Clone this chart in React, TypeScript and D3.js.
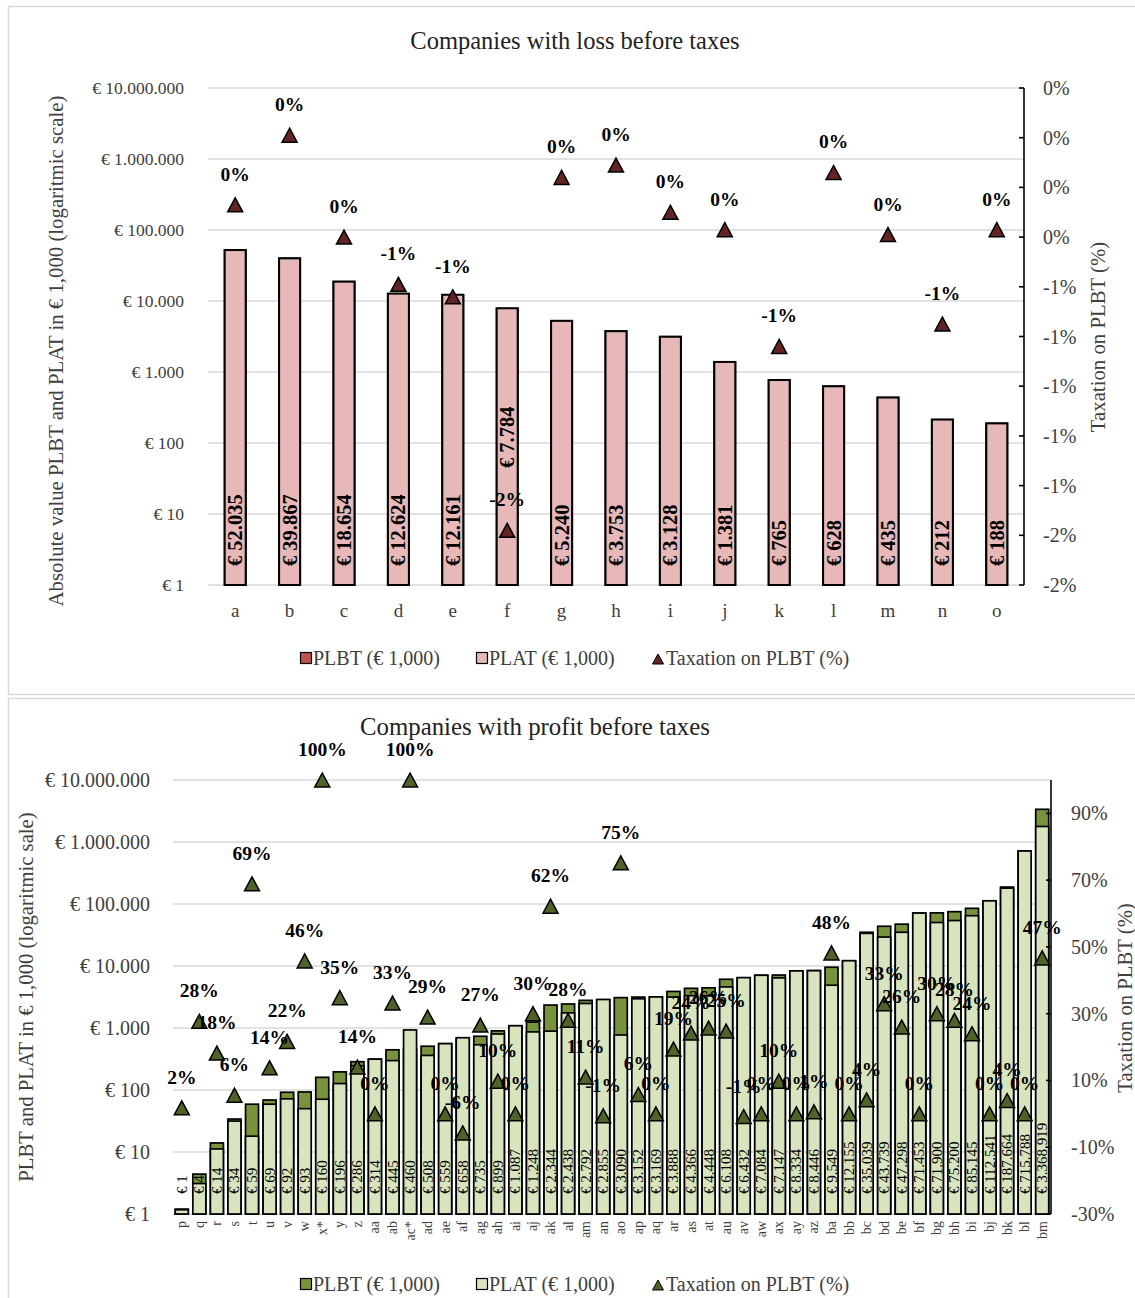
import React from 'react';
import * as d3 from 'd3';

// ---------- DATA ----------
const lossCategories = ['a', 'b', 'c', 'd', 'e', 'f', 'g', 'h', 'i', 'j', 'k', 'l', 'm', 'n', 'o'];
const lossPLBT = [52035, 39867, 18654, 12624, 12161, 7784, 5240, 3753, 3128, 1381, 765, 628, 435, 212, 188];
const lossPLAT = [52170, 39870, 18730, 12700, 12240, 7900, 5250, 3757, 3137, 1386, 771, 629, 437, 214, 189];
const lossTax = [-0.0027, 0.0001, -0.004, -0.0059, -0.0064, -0.0158, -0.0016, -0.0011, -0.003, -0.0037, -0.0084, -0.0014, -0.0039, -0.0075, -0.0037];

const profitCategories = ['p', 'q', 'r', 's', 't', 'u', 'v', 'w', 'x*', 'y', 'z', 'aa', 'ab', 'ac*', 'ad', 'ae', 'af', 'ag', 'ah', 'ai', 'aj', 'ak', 'al', 'am', 'an', 'ao', 'ap', 'aq', 'ar', 'as', 'at', 'au', 'av', 'aw', 'ax', 'ay', 'az', 'ba', 'bb', 'bc', 'bd', 'be', 'bf', 'bg', 'bh', 'bi', 'bj', 'bk', 'bl', 'bm'];
const profitPLBT = [1.2, 4.4, 14, 34, 59, 69, 92, 93, 160, 196, 286, 314, 445, 460, 508, 559, 658, 735, 899, 1087, 1248, 2344, 2438, 2792, 2855, 3090, 3152, 3169, 3888, 4366, 4448, 6108, 6432, 7084, 7147, 8334, 8446, 9549, 12155, 35039, 43739, 47298, 71453, 71900, 75200, 85145, 112541, 187664, 715788, 3368919];
const profitPLAT = [1.17, 3.1, 11.2, 31.5, 18, 59, 72, 50, 71, 127, 246, 314, 298, 930, 361, 559, 697, 537, 800, 1087, 865, 890, 1755, 2485, 2884, 772, 2960, 3169, 3150, 3320, 3310, 4600, 6500, 7084, 6430, 8334, 8400, 4900, 12155, 33600, 29300, 35000, 71453, 50300, 54100, 64700, 112541, 180000, 715788, 1780000];
const profitTax = [0.018, 0.277, 0.182, 0.056, 0.689, 0.138, 0.217, 0.458, 1.0, 0.348, 0.14, 0.0, 0.332, 1.0, 0.29, 0.0, -0.057, 0.266, 0.098, 0.0, 0.3, 0.622, 0.28, 0.11, -0.006, 0.752, 0.058, 0.0, 0.194, 0.242, 0.257, 0.248, -0.008, 0.0, 0.098, 0.0, 0.006, 0.482, 0.0, 0.042, 0.33, 0.26, 0.0, 0.3, 0.28, 0.24, 0.0, 0.04, 0.0, 0.467];

const logTicks = [1, 10, 100, 1000, 10000, 100000, 1000000, 10000000];
const lossTaxTicks = [0.002, 0, -0.002, -0.004, -0.006, -0.008, -0.01, -0.012, -0.014, -0.016, -0.018];
const profitTaxTicks = [-0.3, -0.1, 0.1, 0.3, 0.5, 0.7, 0.9];
const legendLabels = ['PLBT (€ 1,000)', 'PLAT (€ 1,000)', 'Taxation on PLBT (%)'];

// ---------- HELPERS ----------
const FONT = '"Liberation Serif", "Times New Roman", serif';
const euro = d3.formatLocale({ decimal: ',', thousands: '.', grouping: [3], currency: ['€ ', ''] }).format('$,.0f');
const pct = (v: number) => {
  const n = Math.round(v * 100);
  return `${n === 0 ? 0 : n}%`;
};
const TRI = 'M0,-7L7.5,7L-7.5,7Z';
const AXIS_GREY = '#404040';
const GRID = '#d9d9d9';

type Cfg = {
  title: string;
  titleY: number;
  titleX: number;
  titleSize: number;
  cats: string[];
  plbt: number[];
  plat: number[];
  tax: number[];
  x0: number;
  x1: number;
  yTop: number;
  yBot: number;
  taxDomain: [number, number];
  taxTicks: number[];
  cPLBT: string;
  cPLAT: string;
  cTri: string;
  barW: number;
  barStroke: number;
  leftTitle: string;
  leftTitleX: number;
  leftTitleY: number;
  rightTitleX: number;
  rightTitleY: number;
  axisTitleSize: number;
  leftTickX: number;
  rightTickX: number;
  tickSize: number;
  rightTickSize: number;
  small: boolean;
  legendY: number;
  labelLift: Record<string, number>;
};

function Chart({ c }: { c: Cfg }) {
  const x = d3.scaleBand().domain(c.cats).range([c.x0, c.x1]);
  const bw = x.bandwidth();
  const y = d3.scaleLog().domain([1, 1e7]).range([c.yBot, c.yTop]);
  const r = d3.scaleLinear().domain(c.taxDomain).range([c.yBot, c.yTop]);

  const barLabelSize = c.small ? 15 : 20.5;
  const triLabelSize = 19.5;

  return (
    <g>
      <text x={c.titleX} y={c.titleY} textAnchor="middle" fontSize={c.titleSize} fill="#222" fontFamily={FONT}>
        {c.title}
      </text>
      {/* gridlines + left ticks */}
      {logTicks.map((t) => (
        <g key={'g' + t}>
          <line x1={c.x0} x2={c.x1} y1={y(t)} y2={y(t)} stroke={GRID} strokeWidth={1.6} />
          <text x={c.leftTickX} y={y(t)} textAnchor="end" dominantBaseline="central" fontSize={c.tickSize} fill={AXIS_GREY} fontFamily={FONT}>
            {euro(t)}
          </text>
        </g>
      ))}
      {/* bars */}
      {c.cats.map((cat, i) => {
        const cx = (x(cat) as number) + bw / 2;
        const yb = y(c.plbt[i]);
        const ya = y(c.plat[i]);
        return (
          <g key={'b' + cat}>
            <rect x={cx - c.barW / 2} y={yb} width={c.barW} height={c.yBot - yb} fill={c.cPLBT} stroke="#000" strokeWidth={c.barStroke} />
            <rect x={cx - c.barW / 2} y={ya} width={c.barW} height={c.yBot - ya} fill={c.cPLAT} stroke="#000" strokeWidth={c.barStroke} />
          </g>
        );
      })}
      {/* bar value labels */}
      {c.cats.map((cat, i) => {
        const cx = (x(cat) as number) + bw / 2;
        const lift = c.labelLift[cat] || 0;
        const by = (c.small ? c.yBot - 20 : c.yBot - 19) - lift;
        return (
          <text
            key={'l' + cat}
            transform={`translate(${cx},${by}) rotate(-90)`}
            textAnchor="start"
            dominantBaseline="central"
            fontSize={barLabelSize}
            fontWeight={c.small ? 'normal' : 'bold'}
            fill="#000"
            fontFamily={FONT}
          >
            {euro(c.plbt[i])}
          </text>
        );
      })}
      {/* x labels */}
      {c.cats.map((cat) => {
        const cx = (x(cat) as number) + bw / 2;
        return c.small ? (
          <text key={'x' + cat} transform={`translate(${cx},${c.yBot + 7}) rotate(-90)`} textAnchor="end" dominantBaseline="central" fontSize={14} fill={AXIS_GREY} fontFamily={FONT}>
            {cat}
          </text>
        ) : (
          <text key={'x' + cat} x={cx} y={c.yBot + 32} textAnchor="middle" fontSize={19} fill={AXIS_GREY} fontFamily={FONT}>
            {cat}
          </text>
        );
      })}
      {/* right axis */}
      <line x1={c.x1} x2={c.x1} y1={c.yTop} y2={c.yBot} stroke="#000" strokeWidth={1.6} />
      {c.taxTicks.map((t) => (
        <g key={'r' + t}>
          <line x1={c.x1 - 5} x2={c.x1} y1={r(t)} y2={r(t)} stroke="#000" strokeWidth={1.6} />
          <text x={c.rightTickX} y={r(t)} dominantBaseline="central" fontSize={c.rightTickSize} fill={AXIS_GREY} fontFamily={FONT}>
            {pct(t)}
          </text>
        </g>
      ))}
      {/* triangles */}
      {c.cats.map((cat, i) => {
        const cx = (x(cat) as number) + bw / 2;
        return <path key={'t' + cat} d={TRI} transform={`translate(${cx},${r(c.tax[i])})`} fill={c.cTri} stroke="#000" strokeWidth={1.5} />;
      })}
      {c.cats.map((cat, i) => {
        const cx = (x(cat) as number) + bw / 2;
        return (
          <text key={'tl' + cat} x={cx} y={r(c.tax[i]) - 24} textAnchor="middle" fontSize={triLabelSize} fontWeight="bold" fill="#000" fontFamily={FONT}>
            {pct(c.tax[i])}
          </text>
        );
      })}
      {/* axis titles */}
      <text transform={`translate(${c.leftTitleX},${c.leftTitleY}) rotate(-90)`} textAnchor="middle" dominantBaseline="central" fontSize={c.axisTitleSize} fill={AXIS_GREY} fontFamily={FONT}>
        {c.leftTitle}
      </text>
      <text transform={`translate(${c.rightTitleX},${c.rightTitleY}) rotate(-90)`} textAnchor="middle" dominantBaseline="central" fontSize={c.axisTitleSize} fill={AXIS_GREY} fontFamily={FONT}>
        Taxation on PLBT (%)
      </text>
      {/* legend */}
      <g fontFamily={FONT} fontSize={20} fill={AXIS_GREY}>
        <rect x={300.5} y={c.legendY - 5.5} width={11} height={11} fill={c.cPLBT} stroke="#000" strokeWidth={1.2} />
        <text x={313} y={c.legendY} dominantBaseline="central">{legendLabels[0]}</text>
        <rect x={476.5} y={c.legendY - 5.5} width={11} height={11} fill={c.cPLAT} stroke="#000" strokeWidth={1.2} />
        <text x={489} y={c.legendY} dominantBaseline="central">{legendLabels[1]}</text>
        <path d="M0,-5L5.5,5L-5.5,5Z" transform={`translate(${658},${c.legendY + 1})`} fill={c.cTri} stroke="#000" strokeWidth={1} />
        <text x={666} y={c.legendY} dominantBaseline="central">{legendLabels[2]}</text>
      </g>
    </g>
  );
}

const topCfg: Cfg = {
  title: 'Companies with loss before taxes',
  titleX: 575,
  titleY: 49,
  titleSize: 24.5,
  cats: lossCategories,
  plbt: lossPLBT,
  plat: lossPLAT,
  tax: lossTax,
  x0: 208,
  x1: 1024,
  yTop: 88,
  yBot: 585,
  taxDomain: [-0.018, 0.002],
  taxTicks: lossTaxTicks,
  cPLBT: '#c0504d',
  cPLAT: '#e6b9b8',
  cTri: '#632523',
  barW: 21,
  barStroke: 2,
  leftTitle: 'Absolute value PLBT and PLAT in € 1,000 (logaritmic scale)',
  leftTitleX: 55,
  leftTitleY: 351,
  rightTitleX: 1097,
  rightTitleY: 337,
  axisTitleSize: 20.8,
  leftTickX: 184,
  rightTickX: 1043,
  tickSize: 17.5,
  rightTickSize: 20,
  small: false,
  legendY: 658,
  labelLift: { f: 98 },
};

const bottomCfg: Cfg = {
  title: 'Companies with profit before taxes',
  titleX: 535,
  titleY: 735,
  titleSize: 24.8,
  cats: profitCategories,
  plbt: profitPLBT,
  plat: profitPLAT,
  tax: profitTax,
  x0: 173,
  x1: 1051,
  yTop: 780,
  yBot: 1214,
  taxDomain: [-0.3, 1.0],
  taxTicks: profitTaxTicks,
  cPLBT: '#77933c',
  cPLAT: '#d7e4bd',
  cTri: '#4f6228',
  barW: 13,
  barStroke: 1.7,
  leftTitle: 'PLBT and PLAT in € 1,000 (logaritmic sale)',
  leftTitleX: 26,
  leftTitleY: 997,
  rightTitleX: 1125,
  rightTitleY: 998,
  axisTitleSize: 20.7,
  leftTickX: 150,
  rightTickX: 1071,
  tickSize: 20,
  rightTickSize: 20,
  small: true,
  legendY: 1284,
  labelLift: {},
};

export default function App() {
  return (
    <svg width={1135} height={1298} style={{ position: 'absolute', left: 0, top: 0, background: '#fff' }}>
      <rect x={8.5} y={6.5} width={1140} height={688} fill="#fff" stroke={GRID} strokeWidth={1.5} />
      <rect x={8.5} y={698.5} width={1140} height={620} fill="#fff" stroke={GRID} strokeWidth={1.5} />
      <Chart c={topCfg} />
      <Chart c={bottomCfg} />
    </svg>
  );
}
